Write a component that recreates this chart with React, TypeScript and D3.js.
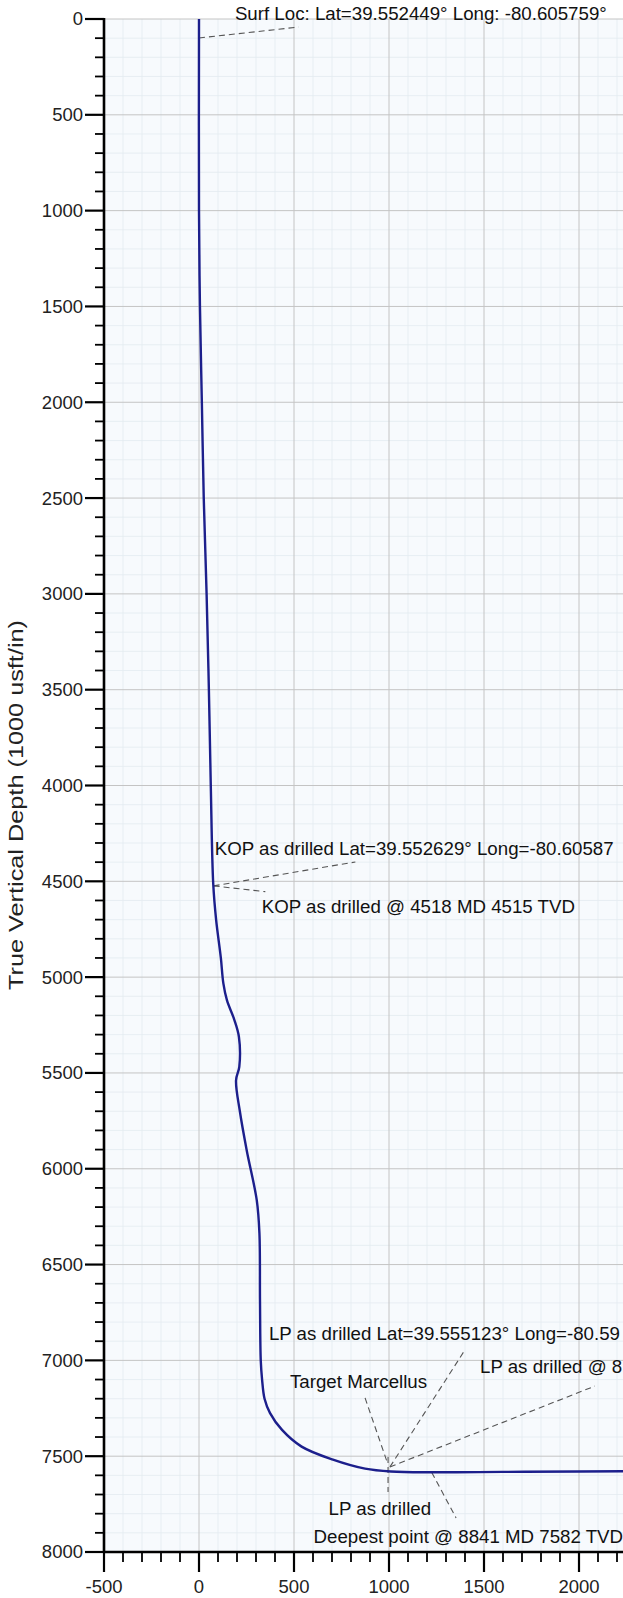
import React from "react";
import * as d3 from "d3";

// Well path: vertical section (usft) vs true vertical depth (usft)
const wellVS = [0, 0, 5, 15, 25, 40, 52, 62, 75, 90, 115, 128, 147, 185, 210, 212, 195, 215, 251, 304, 318, 321, 325, 332, 345, 374, 437, 540, 705, 874, 1010, 1230, 1600, 2000, 2900];
const wellTVD = [0, 1000, 1500, 2000, 2500, 3000, 3500, 4000, 4515, 4700, 4900, 5031, 5120, 5220, 5311, 5468, 5538, 5700, 5903, 6164, 6336, 6686, 7000, 7100, 7200, 7275, 7363, 7450, 7518, 7565, 7580, 7584, 7582, 7580, 7575];

const yTickValues = d3.range(0, 8001, 500);
const xTickValues = [-500, 0, 500, 1000, 1500, 2000];
const xGridValues = d3.range(-500, 3001, 500);

// Annotations: label text, text anchor point (VS, TVD)
const labelTexts = [
  "Surf Loc: Lat=39.552449° Long: -80.605759°",
  "KOP as drilled Lat=39.552629° Long=-80.60587",
  "KOP as drilled @ 4518 MD 4515 TVD",
  "LP as drilled Lat=39.555123° Long=-80.59",
  "LP as drilled @ 8",
  "Target Marcellus",
  "LP as drilled",
  "Deepest point @ 8841 MD 7582 TVD",
];
const labelVS = [189, 83, 330, 368, 1479, 479, 682, 603];
const labelTVD = [5, 4363, 4665, 6893, 7066, 7144, 7807, 7953];

// Leader lines: from (VS, TVD) to (VS, TVD)
const leaderFromVS = [0, 77, 77, 1005, 1005, 874, 995, 1225];
const leaderFromTVD = [99, 4524, 4524, 7556, 7556, 7196, 7504, 7585];
const leaderToVS = [524, 823, 349, 1400, 2084, 990, 995, 1353];
const leaderToTVD = [42, 4399, 4554, 6945, 7134, 7530, 7687, 7822];

const W = 623;
const H = 1598;
const FONT = "'Liberation Sans', Arial, Helvetica, sans-serif";

export default function App() {
  const x = d3.scaleLinear().domain([-500, 3000]).range([104, 104 + 3500 * 0.19]);
  const y = d3.scaleLinear().domain([0, 8000]).range([19, 1552]);
  const left = x(-500);
  const top = y(0);
  const bottom = y(8000);
  const right = W + 20;

  const pts: [number, number][] = wellVS.map((v, i) => [v, wellTVD[i]]);
  const line = d3
    .line<[number, number]>()
    .x((d) => x(d[0]))
    .y((d) => y(d[1]))
    .curve(d3.curveCatmullRom.alpha(0.5));

  const minorY = d3.range(0, 8001, 100).filter((v) => v % 500 !== 0);
  const minorX = d3.range(-500, 3001, 100).filter((v) => v % 500 !== 0);

  return (
    <svg
      width={W}
      height={H}
      viewBox={`0 0 ${W} ${H}`}
      style={{ position: "absolute", left: 0, top: 0, background: "#fff" }}
      fontFamily={FONT}
    >
      <defs>
        <clipPath id="plot">
          <rect x={left} y={top - 1} width={right - left} height={bottom - top + 1} />
        </clipPath>
      </defs>
      <rect x={left} y={top} width={right - left} height={bottom - top} fill="#f7fafd" />
      <g clipPath="url(#plot)">
        {minorX.map((v) => (
          <line key={"mx" + v} x1={x(v)} x2={x(v)} y1={top} y2={bottom} stroke="#e3ebf0" strokeWidth={0.8} />
        ))}
        {minorY.map((v) => (
          <line key={"my" + v} x1={left} x2={right} y1={y(v)} y2={y(v)} stroke="#e3ebf0" strokeWidth={0.8} />
        ))}
        {xGridValues.map((v) => (
          <line key={"gx" + v} x1={x(v)} x2={x(v)} y1={top} y2={bottom} stroke="#c4c4c4" strokeWidth={1} />
        ))}
        {yTickValues.map((v) => (
          <line key={"gy" + v} x1={left} x2={right} y1={y(v)} y2={y(v)} stroke="#c4c4c4" strokeWidth={1} />
        ))}
        {leaderFromVS.map((v, i) => (
          <line
            key={"ld" + i}
            x1={x(v)}
            y1={y(leaderFromTVD[i])}
            x2={x(leaderToVS[i])}
            y2={y(leaderToTVD[i])}
            stroke="#555"
            strokeWidth={1.1}
            strokeDasharray="6,4"
          />
        ))}
        <path d={line(pts) || ""} fill="none" stroke="#1c1f8c" strokeWidth={2.4} />
      </g>

      {labelTexts.map((t, i) => (
        <text key={"lb" + i} x={x(labelVS[i])} y={y(labelTVD[i])} fontSize={18.7} fill="#111">
          {t}
        </text>
      ))}

      {/* Y axis */}
      <line x1={left} x2={left} y1={top - 1} y2={bottom + 1} stroke="#000" strokeWidth={2.6} />
      {minorY.map((v) => (
        <line key={"ty" + v} x1={left - 9} x2={left} y1={y(v)} y2={y(v)} stroke="#000" strokeWidth={1.8} />
      ))}
      {yTickValues.map((v) => (
        <g key={"yt" + v}>
          <line x1={left - 19} x2={left} y1={y(v)} y2={y(v)} stroke="#000" strokeWidth={2.2} />
          <text x={left - 21} y={y(v)} dy="0.35em" textAnchor="end" fontSize={18.5} fill="#222">
            {v}
          </text>
        </g>
      ))}
      <text
        transform={`translate(23, 805) rotate(-90)`}
        textAnchor="middle"
        fontSize={21}
        fill="#222"
        textLength={370}
        lengthAdjust="spacingAndGlyphs"
      >
        True Vertical Depth (1000 usft/in)
      </text>

      {/* X axis */}
      <line x1={left - 1} x2={right} y1={bottom} y2={bottom} stroke="#000" strokeWidth={2.6} />
      {minorX.map((v) => (
        <line key={"tx" + v} x1={x(v)} x2={x(v)} y1={bottom} y2={bottom + 10} stroke="#000" strokeWidth={1.8} />
      ))}
      {xGridValues.map((v) => (
        <line key={"xtl" + v} x1={x(v)} x2={x(v)} y1={bottom} y2={bottom + 20} stroke="#000" strokeWidth={2.2} />
      ))}
      {xTickValues.map((v) => (
        <text key={"xt" + v} x={x(v)} y={bottom + 41} textAnchor="middle" fontSize={18.5} fill="#222">
          {v}
        </text>
      ))}
    </svg>
  );
}
